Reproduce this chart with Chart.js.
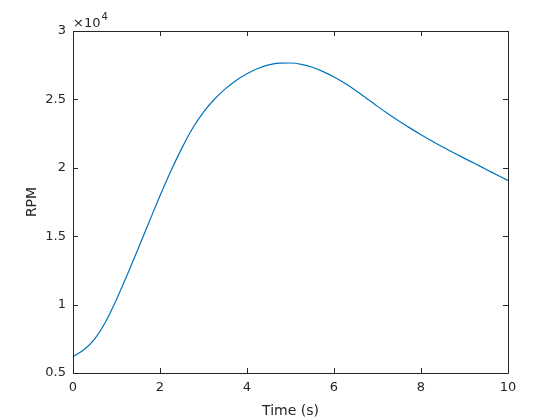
<!DOCTYPE html>
<html>
<head>
<meta charset="utf-8">
<script src="https://cdn.jsdelivr.net/npm/chart.js@4.4.1/dist/chart.umd.min.js"></script>
<style>
  html, body { margin: 0; padding: 0; background: #fff; }
  #wrap { width: 560px; height: 420px; }
</style>
</head>
<body>
<div id="wrap"><canvas id="rpmChart" width="560" height="420"></canvas></div>
<script>
// time in seconds
const timeSec = [0, 0.25, 0.5, 0.75, 1.0, 1.25, 1.5, 1.75, 2.0, 2.25, 2.5, 2.75,
    3.0, 3.25, 3.5, 3.75, 4.0, 4.25, 4.5, 4.75, 5.0, 5.25, 5.5, 5.75,
    6.0, 6.25, 6.5, 6.75, 7.0, 7.25, 7.5, 7.75, 8.0, 8.25, 8.5, 8.75,
    9.0, 9.25, 9.5, 9.75, 10.0];

// motor speed (RPM)
const rpm = [6200, 6700, 7500, 8750, 10380, 12200, 14100, 16040, 17960, 19770, 21420, 22890,
    24070, 25010, 25770, 26390, 26880, 27260, 27520, 27650, 27660, 27560, 27350, 27030,
    26640, 26180, 25650, 25070, 24490, 23930, 23400, 22900, 22420, 21960, 21520, 21100,
    20690, 20290, 19880, 19480, 19080];

const xTicks = [0, 2, 4, 6, 8, 10];
const yTicks = [5000, 10000, 15000, 20000, 25000, 30000];
const yExponent = 4;

const axisColor = '#262626';
const fontFamily = "'DejaVu Sans', sans-serif";

// MATLAB-style box with inward ticks and the x10^4 multiplier
const matlabAxes = {
    id: 'matlabAxes',
    afterDraw(chart) {
        const ctx = chart.ctx;
        const area = chart.chartArea;
        const xs = chart.scales.x;
        const ys = chart.scales.y;
        const tickLen = 5;

        ctx.save();
        ctx.strokeStyle = axisColor;
        ctx.lineWidth = 1;
        ctx.beginPath();
        ctx.rect(Math.round(area.left) + 0.5, Math.round(area.top) + 0.5,
            Math.round(area.right - area.left), Math.round(area.bottom - area.top));
        ctx.stroke();

        ctx.beginPath();
        xTicks.forEach(v => {
            const px = Math.round(xs.getPixelForValue(v)) + 0.5;
            ctx.moveTo(px, area.bottom);
            ctx.lineTo(px, area.bottom - tickLen);
            ctx.moveTo(px, area.top);
            ctx.lineTo(px, area.top + tickLen);
        });
        yTicks.forEach(v => {
            const py = Math.round(ys.getPixelForValue(v)) + 0.5;
            ctx.moveTo(area.left, py);
            ctx.lineTo(area.left + tickLen, py);
            ctx.moveTo(area.right, py);
            ctx.lineTo(area.right - tickLen, py);
        });
        ctx.stroke();

        // exponent label
        ctx.fillStyle = axisColor;
        ctx.textBaseline = 'alphabetic';
        ctx.textAlign = 'left';
        ctx.font = '13px ' + fontFamily;
        const base = '\u00d710';
        ctx.fillText(base, area.left, area.top - 4);
        const w = ctx.measureText(base).width;
        ctx.font = '10px ' + fontFamily;
        ctx.fillText(String(yExponent), area.left + w + 1, area.top - 11);
        ctx.restore();
    }
};

const ctx = document.getElementById('rpmChart').getContext('2d');
const chart = new Chart(ctx, {
    type: 'line',
    data: {
        datasets: [{
            label: 'RPM',
            data: timeSec.map((t, i) => ({ x: t, y: rpm[i] })),
            borderColor: '#0072BD',
            borderWidth: 1.2,
            pointRadius: 0,
            fill: false,
            cubicInterpolationMode: 'monotone'
        }]
    },
    options: {
        responsive: false,
        devicePixelRatio: 1,
        animation: false,
        layout: {
            padding: { top: 31, right: 52, left: 0, bottom: 0 }
        },
        plugins: {
            legend: { display: false },
            tooltip: { enabled: false }
        },
        scales: {
            x: {
                type: 'linear',
                min: 0,
                max: 10,
                afterFit(scale) { scale.height = 47; },
                afterBuildTicks(scale) { scale.ticks = xTicks.map(v => ({ value: v })); },
                grid: { display: false, drawTicks: false },
                border: { display: false },
                ticks: {
                    color: axisColor,
                    padding: 7,
                    maxRotation: 0,
                    font: { family: fontFamily, size: 13 }
                },
                title: {
                    display: true,
                    text: 'Time (s)',
                    color: axisColor,
                    padding: { top: 4, bottom: 0 },
                    font: { family: fontFamily, size: 14 }
                }
            },
            y: {
                type: 'linear',
                min: 5000,
                max: 30000,
                afterFit(scale) { scale.width = 73; },
                afterBuildTicks(scale) { scale.ticks = yTicks.map(v => ({ value: v })); },
                grid: { display: false, drawTicks: false },
                border: { display: false },
                ticks: {
                    color: axisColor,
                    padding: 7,
                    font: { family: fontFamily, size: 13 },
                    callback: function(value) {
                        return String(value / Math.pow(10, yExponent));
                    }
                },
                title: {
                    display: true,
                    text: 'RPM',
                    color: axisColor,
                    padding: { top: 24, bottom: 0 },
                    font: { family: fontFamily, size: 14 }
                }
            }
        }
    },
    plugins: [matlabAxes]
});
</script>
</body>
</html>
